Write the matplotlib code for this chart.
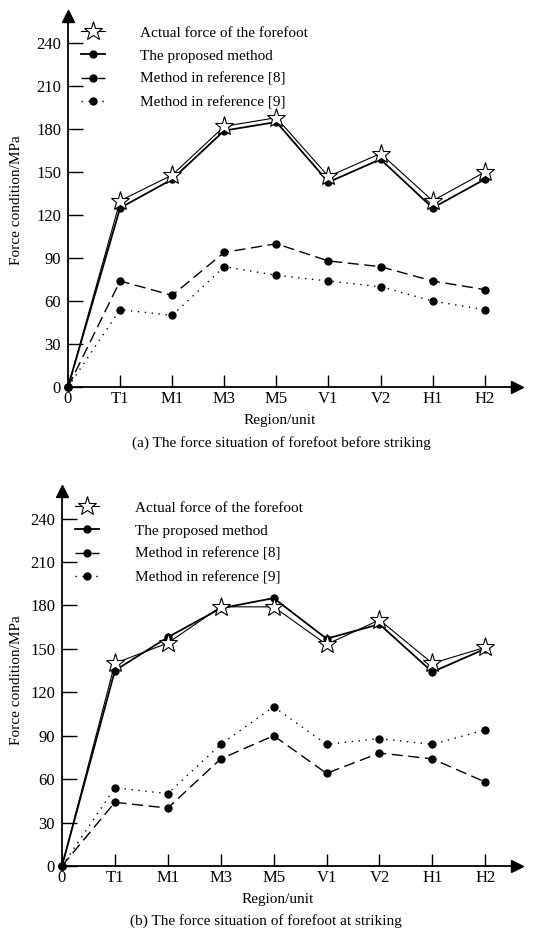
import matplotlib
matplotlib.use("Agg")
import matplotlib.pyplot as plt

plt.rcParams['font.family'] = ['Liberation Serif', 'DejaVu Serif']

categories = ['0', 'T1', 'M1', 'M3', 'M5', 'V1', 'V2', 'H1', 'H2']
yticks = [0, 30, 60, 90, 120, 150, 180, 210, 240]

# (a) before striking
a_actual = [0, 130, 148, 182, 188, 147, 163, 130, 150]
a_proposed = [0, 125, 145, 179, 185, 143, 159, 125, 145]
a_ref8 = [0, 74, 64, 94, 100, 88, 84, 74, 68]
a_ref9 = [0, 54, 50, 84, 78, 74, 70, 60, 54]

# (b) at striking
b_actual = [0, 140, 154, 179, 179, 153, 170, 140, 151]
b_proposed = [0, 135, 158, 178, 185, 157, 167, 134, 150]
b_ref8 = [0, 44, 40, 74, 90, 64, 78, 74, 58]
b_ref9 = [0, 54, 50, 84, 110, 84, 88, 84, 94]

labels = ['Actual force of the forefoot', 'The proposed method',
          'Method in reference [8]', 'Method in reference [9]']

W, H = 547, 930
fig = plt.figure(figsize=(W / 100, H / 100), dpi=100)


def px_rect(l, r, b, t):
    return [l / W, (H - b) / H, (r - l) / W, (b - t) / H]


def draw(ax, actual, proposed, ref8, ref9, xmax, ymax):
    x = list(range(len(categories)))
    ax.plot(x, actual, color='black', lw=0.8, marker='*', ms=14,
            mfc='white', mec='black', mew=0.8, markevery=list(range(1, 9)),
            clip_on=False, zorder=4, label=labels[0])
    ax.plot(x, proposed, color='black', lw=1.3, marker='o', ms=5,
            clip_on=False, zorder=3, label=labels[1])
    ax.plot(x, ref8, color='black', lw=1.0, ls=(0, (8, 4)), marker='o', ms=5,
            clip_on=False, zorder=3, label=labels[2])
    ax.plot(x, ref9, color='black', lw=1.0, ls=(0, (1, 4)), marker='o', ms=5,
            clip_on=False, zorder=3, label=labels[3])
    ax.set_xlim(0, xmax)
    ax.set_ylim(0, ymax)
    ax.set_xticks(x)
    ax.set_xticklabels(categories)
    ax.set_yticks(yticks)
    for s in ['top', 'right']:
        ax.spines[s].set_visible(False)
    for s in ['left', 'bottom']:
        ax.spines[s].set_linewidth(1.3)
    ax.tick_params(axis='y', direction='in', length=11, width=1.0, pad=5,
                   labelsize=12)
    ax.tick_params(axis='x', direction='in', length=8.5, width=1.0, pad=3,
                   labelsize=12)
    ax.plot(1, 0, marker='>', ms=9, color='black', transform=ax.transAxes,
            clip_on=False, zorder=5)
    ax.plot(0, 1, marker='^', ms=9, color='black', transform=ax.transAxes,
            clip_on=False, zorder=5)
    leg = ax.legend(loc='upper left', bbox_to_anchor=(0.015, 0.99),
                    frameon=False, fontsize=11, handlelength=1.6,
                    handletextpad=2.3, labelspacing=0.62, borderaxespad=0.0)
    return leg


ax1 = fig.add_axes(px_rect(68, 517, 387, 16))
draw(ax1, a_actual, a_proposed, a_ref8, a_ref9, 8.62, 259)
ax2 = fig.add_axes(px_rect(62, 517, 866, 491))
draw(ax2, b_actual, b_proposed, b_ref8, b_ref9, 8.6, 259)


def ftext(xp, yp, s, **kw):
    fig.text(xp / W, 1 - yp / H, s, ha='center', va='center', **kw)


ftext(17, 200, 'Force condition/MPa', rotation=90, fontsize=11)
ftext(280, 420, 'Region/unit', fontsize=11)
ftext(281, 443, '(a) The force situation of forefoot before striking', fontsize=11)
ftext(17, 680, 'Force condition/MPa', rotation=90, fontsize=11)
ftext(278, 899, 'Region/unit', fontsize=11)
ftext(266, 921, '(b) The force situation of forefoot at striking', fontsize=11)

fig.savefig('out.png', dpi=100)
